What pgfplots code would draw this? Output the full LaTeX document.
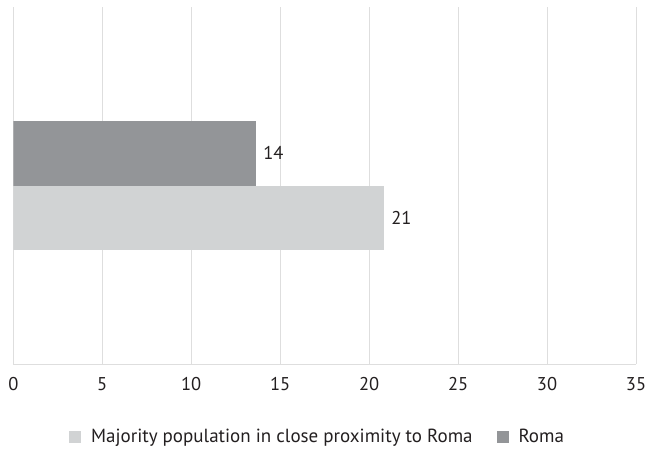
\documentclass[border=0pt]{standalone}
\usepackage{fontspec}
\setmainfont{PT Sans}
\usepackage{pgfplots}
\pgfplotsset{compat=1.18}
\definecolor{roma}{HTML}{939598}
\definecolor{major}{HTML}{D1D3D4}
\definecolor{gridc}{HTML}{DEDEDE}
\definecolor{txt}{HTML}{231F20}
\begin{document}
\fontsize{19bp}{22bp}\selectfont
\begin{tikzpicture}
\useasboundingbox (-13.3bp,-85bp) rectangle (632.7bp,364bp);
\begin{axis}[
  at={(0,0)}, anchor=south west,
  scale only axis, width=622.7bp, height=357bp,
  xmin=0, xmax=35, ymin=-2.75, ymax=2.75,
  xtick={0,5,...,35},
  ytick=\empty,
  axis x line=bottom, axis y line=none,
  x axis line style={draw=gridc, line width=1bp, -},
  xmajorgrids, major grid style={draw=gridc, line width=1bp},
  major tick length=0pt,
  /pgf/number format/assume math mode=true,
  xticklabel style={font=\fontsize{18.5bp}{22bp}\selectfont, text=txt, inner sep=0pt, anchor=north, yshift=-13bp},
  xbar, bar width=1, bar shift=0pt,
  point meta=x,
  nodes near coords={\pgfmathprintnumber[fixed,precision=0]{\pgfplotspointmeta}},
  every node near coord/.append style={font=\fontsize{18.5bp}{22bp}\selectfont, text=txt, anchor=west, inner sep=0pt, xshift=7bp},
  legend style={at={(0.487,-0.2045)}, anchor=center, draw=none, fill=none,
    font=\fontsize{19bp}{22bp}\selectfont, text=txt,
    legend columns=2,
    /tikz/every even column/.append style={column sep=24bp},
    nodes={inner sep=0pt, text=txt}},
  legend cell align=left,
]
\addplot[fill=major, draw=none,
  legend image code/.code={\fill[major] (0bp,-6bp) rectangle (12bp,6bp); \path (22bp,0);}]
  coordinates {(20.84,-0.5)};
\addlegendentry{Majority population in close proximity to Roma}
\addplot[fill=roma, draw=none,
  legend image code/.code={\fill[roma] (0bp,-6bp) rectangle (12bp,6bp); \path (22bp,0);}]
  coordinates {(13.65,0.5)};
\addlegendentry{Roma}
\end{axis}
\end{tikzpicture}
\end{document}
